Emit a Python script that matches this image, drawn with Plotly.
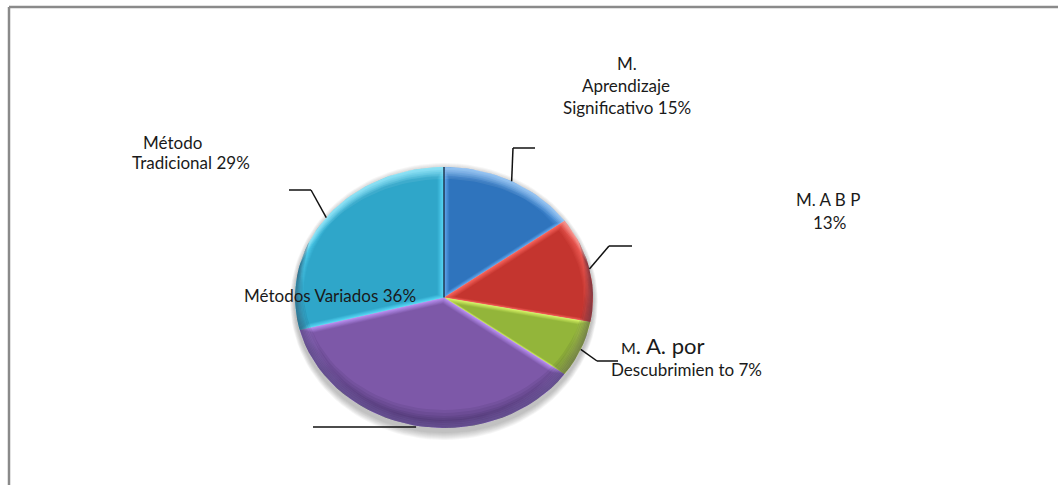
import math
import plotly.graph_objects as go

# ---- data ----
categories = ["M. Aprendizaje Significativo", "M. A B P", "M. A. por Descubrimiento",
              "Métodos Variados", "Método Tradicional"]
values = [15, 13, 7, 36, 29]

# ---- styles ----
body_colors = ["#2f74bd", "#c4352f", "#93b53a", "#7d58a8", "#2fa6c9"]
light_colors = ["#63a8ee", "#f6645c", "#d8f468", "#b88ff0", "#58d8f6"]
FONT = "Lato, Carlito, Calibri, sans-serif"
CX, CY, RX, RY = 444, 297.5, 149, 130.5

def mix(c1, c2, t):
    a = [int(c1[i:i + 2], 16) for i in (1, 3, 5)]
    b = [int(c2[i:i + 2], 16) for i in (1, 3, 5)]
    return "rgb(%d,%d,%d)" % tuple(round(a[i] + (b[i] - a[i]) * t) for i in range(3))

def wedge(f0, f1, scale=1.0, dy=0.0):
    """Slice outline between cumulative fractions, scaled about its own centre."""
    n = max(6, int((f1 - f0) * 160))
    pts = [(0.0, 0.0)]
    for i in range(n + 1):
        a = 2 * math.pi * (f0 + (f1 - f0) * i / n)
        pts.append((RX * math.sin(a), -RY * math.cos(a)))
    m = 2 * math.pi * (f0 + f1) / 2
    k = 0.55 if (f1 - f0) < 0.3 else 0.35
    gx, gy = RX * k * math.sin(m), -RY * k * math.cos(m)
    xs = [CX + gx + (p[0] - gx) * scale for p in pts]
    ys = [CY + gy + (p[1] - gy) * scale + dy for p in pts]
    return xs, ys

def crescent(start_deg, end_deg, depth):
    """Rim band along part of the ellipse; depth tapers to nothing at both ends."""
    n = 60
    outer, inner = [], []
    for i in range(n + 1):
        t = i / n
        a = math.radians(start_deg + (end_deg - start_deg) * t)
        ca, sa = math.cos(a), math.sin(a)
        outer.append((CX + RX * ca, CY + RY * sa))
        d = depth * math.sin(math.pi * t) ** 0.7
        inner.append((CX + (RX - d) * ca, CY + (RY - d) * sa))
    pts = outer + inner[::-1]
    return [p[0] for p in pts], [p[1] for p in pts]

fig = go.Figure()

def fill(xs, ys, color):
    fig.add_trace(go.Scatter(x=xs, y=ys, mode="lines", fill="toself", fillcolor=color,
                             line=dict(width=0, color=color), hoverinfo="skip", showlegend=False))

# soft shadow under the pie
for i in range(8):
    grow = 8 - i
    xs = [CX + (RX + grow * 0.6) * math.cos(2 * math.pi * j / 120) for j in range(121)]
    ys = [CY + 4 + (RY + grow) * math.sin(2 * math.pi * j / 120) for j in range(121)]
    fill(xs, ys, "rgba(90,90,90,0.055)")

total = sum(values)
fracs = [0.0]
for v in values:
    fracs.append(fracs[-1] + v / total)

# bevelled slices
for idx in range(len(values)):
    f0, f1 = fracs[idx], fracs[idx + 1]
    body, light = body_colors[idx], light_colors[idx]
    w = f1 - f0
    inset = 0.18 if w < 0.1 else (0.14 if w < 0.2 else 0.10)
    x, y = wedge(f0, f1)
    fill(x, y, light)
    for s in range(1, 9):
        t = s / 8
        x, y = wedge(f0, f1, 1 - inset * t, 1.5 * t)
        fill(x, y, mix(light, body, t))

# dark rim below, bright rim above
for h in (18, 15, 12, 10, 8, 6, 4, 2):
    x, y = crescent(-25, 205, h)
    fill(x, y, "rgba(15,15,40,0.075)")
for h in (12, 9, 7, 5, 3):
    x, y = crescent(195, 345, h)
    fill(x, y, "rgba(255,255,255,0.075)")

fig.add_trace(go.Scatter(x=[CX, CX], y=[CY, CY - RY], mode="lines",
                         line=dict(color="#1c3550", width=1.5), hoverinfo="skip", showlegend=False))

# leader lines: start on the rim at each slice's mid-angle
elbows = [[(513, 148), (535, 148)], [(609, 246), (632, 246)], [(597, 361), (618, 361)],
          [(313, 427)], [(311, 190), (289, 190)]]
shapes = []
for idx, el in enumerate(elbows):
    m = 2 * math.pi * (fracs[idx] + fracs[idx + 1]) / 2
    px, py = CX + RX * math.sin(m), CY - RY * math.cos(m)
    for qx, qy in el:
        if idx == 3:
            py = qy
        shapes.append(dict(type="line", x0=px, y0=py, x1=qx, y1=qy, xref="x", yref="y",
                           line=dict(color="#111111", width=1.5), layer="above"))
        px, py = qx, qy

# chart frame, running off the right and bottom of the picture
shapes.append(dict(type="line", x0=9, y0=7, x1=1058, y1=7, xref="x", yref="y",
                   line=dict(color="#8a8a8a", width=2.5)))
shapes.append(dict(type="line", x0=9, y0=7, x1=9, y1=485, xref="x", yref="y",
                   line=dict(color="#8a8a8a", width=2.5)))

# ---- text, one annotation per line as in the picture ----
texts = [
    ("M.", 627, 63), ("Aprendizaje", 626, 85), ("Significativo 15%", 627, 107),
    ("M. A B P", 828, 199), ("13%", 829, 222),
    ("Método", 172, 142), ("Tradicional 29%", 191, 162),
    ("Métodos Variados 36%", 330, 295),
    ("Descubrimien to 7%", 686, 369),
    ("<span style='font-size:16px'>M</span>. A. por", 662, 345),
]
annotations = []
for t, x, y in texts:
    size = 22 if "por" in t else 17
    annotations.append(dict(text=t, x=x, y=y, xref="x", yref="y", showarrow=False,
                            xanchor="center", yanchor="middle",
                            font=dict(family=FONT, size=size, color="#1a1a1a")))

fig.update_layout(
    width=1058, height=485, margin=dict(l=0, r=0, t=0, b=0),
    paper_bgcolor="white", plot_bgcolor="white", showlegend=False,
    xaxis=dict(range=[0, 1058], visible=False, fixedrange=True),
    yaxis=dict(range=[485, 0], visible=False, fixedrange=True),
    shapes=shapes, annotations=annotations,
)
fig.write_html("out.html", config=dict(displayModeBar=False),
               post_script="document.body.style.margin='0';document.documentElement.style.overflow='hidden';")
